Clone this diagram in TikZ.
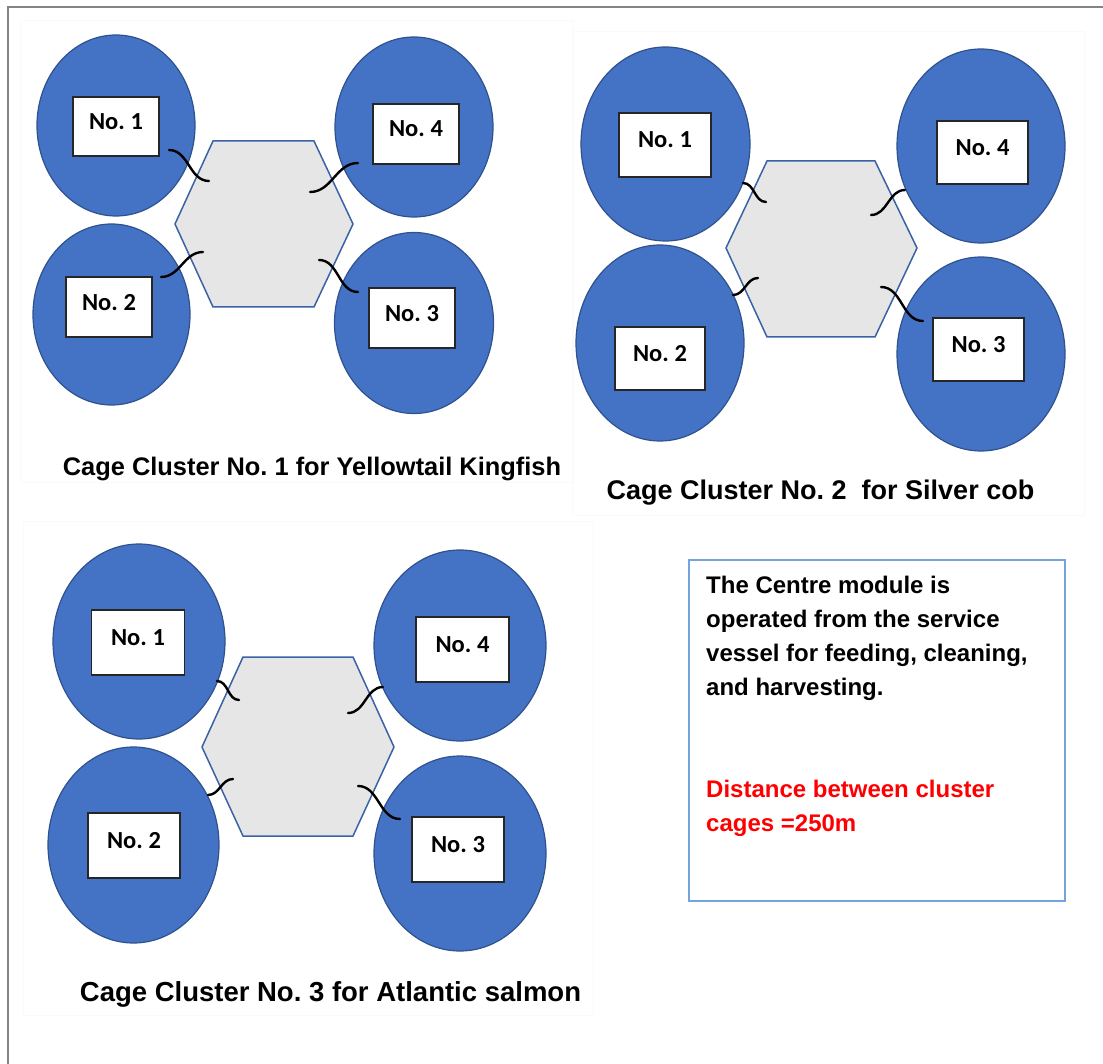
\documentclass[tikz,border=0pt]{standalone}
\usepackage{fontspec}
\setmainfont{Liberation Sans}
\newfontfamily\calfont{Carlito}
\usetikzlibrary{shapes.geometric}
\definecolor{cageblue}{HTML}{4472C4}
\definecolor{cageline}{HTML}{2F528F}
\definecolor{hubgray}{HTML}{E6E6E6}
\definecolor{hubline}{HTML}{3A62A6}
\definecolor{boxline}{RGB}{116,163,222}
\definecolor{framegray}{HTML}{858585}
\frenchspacing
\begin{document}
\begin{tikzpicture}[
  x=1pt, y=-1pt,
  cage/.style={draw=cageline, fill=cageblue, ellipse, line width=1.2pt, inner sep=0pt},
  tag/.style={draw=black!85, fill=white, line width=1.3pt, inner sep=0pt, text depth=10pt,
    font=\calfont\bfseries\fontsize{24.5}{28}\selectfont},
  hub/.style={draw=hubline, fill=hubgray, line width=1.5pt},
  cable/.style={draw=black, line width=2.4pt, line cap=round},
  title/.style={anchor=base, inner sep=0pt, font=\bfseries\fontsize{#1}{#1}\selectfont},
  note/.style={anchor=north west, align=left, inner sep=0pt,
    font=\bfseries\fontsize{24}{34.3}\selectfont},
  panel/.style={draw=black!2, line width=0.8pt}
]
\useasboundingbox (0,0) rectangle (1103,1064);
\draw[framegray, line width=2pt] (8,1064) -- (8,7) -- (1103,7);
\draw[panel] (20,20) rectangle (573,482);
\draw[panel] (572,31) rectangle (1084,515);
\draw[panel] (23,521) rectangle (593,1015);

% cluster 1
\node[cage, minimum width=158pt, minimum height=181pt] (a1) at (116,125.5) {};
\node[cage, minimum width=157pt, minimum height=181pt] (a2) at (111.5,314.5) {};
\node[cage, minimum width=159pt, minimum height=181pt] (a3) at (414,323) {};
\node[cage, minimum width=158pt, minimum height=180pt] (a4) at (414,127) {};
\draw[hub] (175,224) -- (213,141) -- (314,141) -- (353,224) -- (314,307) -- (213,307) -- cycle;
\node[tag, minimum width=86pt, minimum height=59pt] (ta1) at (116,126.5) {No. 1};
\node[tag, minimum width=86pt, minimum height=60pt] (ta2) at (109,307) {No. 2};
\node[tag, minimum width=86pt, minimum height=60pt] (ta3) at (412,318) {No. 3};
\node[tag, minimum width=86pt, minimum height=60pt] (ta4) at (416,134) {No. 4};
\coordinate (a1s) at (169,150); \coordinate (a1e) at (209,181);
\coordinate (a2s) at (203,252); \coordinate (a2e) at (161,277);
\coordinate (a3s) at (319,260); \coordinate (a3e) at (358,292);
\coordinate (a4s) at (358,163); \coordinate (a4e) at (310,192);
\draw[cable] (a1s) to[out=0,in=180] (a1e);
\draw[cable] (a2s) to[out=180,in=0] (a2e);
\draw[cable] (a3s) to[out=0,in=180] (a3e);
\draw[cable] (a4s) to[out=180,in=0] (a4e);
\node[title=25.4] (ttla) at (312,475) {Cage Cluster No. 1 for Yellowtail Kingfish};

% cluster 2
\node[cage, minimum width=169pt, minimum height=194pt] (b1) at (665.5,144) {};
\node[cage, minimum width=168pt, minimum height=196pt] (b2) at (660,343) {};
\node[cage, minimum width=168pt, minimum height=194pt] (b3) at (981,354) {};
\node[cage, minimum width=168pt, minimum height=194pt] (b4) at (981,146) {};
\draw[hub] (726,248) -- (767,161) -- (875,161) -- (917,248) -- (875,337) -- (767,337) -- cycle;
\node[tag, minimum width=92pt, minimum height=64pt] (tb1) at (665,145) {No. 1};
\node[tag, minimum width=90pt, minimum height=63pt] (tb2) at (660,358.5) {No. 2};
\node[tag, minimum width=91pt, minimum height=63pt] (tb3) at (978.5,349.5) {No. 3};
\node[tag, minimum width=91pt, minimum height=63pt] (tb4) at (982.5,152.5) {No. 4};
\coordinate (b1s) at (743,183); \coordinate (b1e) at (766,202);
\coordinate (b2s) at (758,278); \coordinate (b2e) at (733,295);
\coordinate (b3s) at (881,287); \coordinate (b3e) at (923,321);
\coordinate (b4s) at (905,190); \coordinate (b4e) at (871,215);
\draw[cable] (b1s) to[out=0,in=180] (b1e);
\draw[cable] (b2s) to[out=180,in=0] (b2e);
\draw[cable] (b3s) to[out=0,in=180] (b3e);
\draw[cable] (b4s) to[out=180,in=0] (b4e);
\node[title=27] (ttlb) at (820.5,499) {Cage Cluster No. 2 \ for Silver cob};

% cluster 3
\node[cage, minimum width=172pt, minimum height=195pt] (c1) at (139,641.5) {};
\node[cage, minimum width=171pt, minimum height=196pt] (c2) at (133.5,845) {};
\node[cage, minimum width=172pt, minimum height=195pt] (c3) at (460,853.5) {};
\node[cage, minimum width=172pt, minimum height=191pt] (c4) at (460,645.5) {};
\draw[hub] (202,747) -- (243,657) -- (353,657) -- (394,747) -- (353,836) -- (243,836) -- cycle;
\node[tag, minimum width=93pt, minimum height=65pt] (tc1) at (138,642.5) {No. 1};
\node[tag, minimum width=92pt, minimum height=65pt] (tc2) at (134,845.5) {No. 2};
\node[tag, minimum width=92pt, minimum height=65pt] (tc3) at (458,849.5) {No. 3};
\node[tag, minimum width=93pt, minimum height=65pt] (tc4) at (462.5,649.5) {No. 4};
\coordinate (c1s) at (217,681); \coordinate (c1e) at (239,700);
\coordinate (c2s) at (233,779); \coordinate (c2e) at (208,795);
\coordinate (c3s) at (358,786); \coordinate (c3e) at (400,819);
\coordinate (c4s) at (383,687); \coordinate (c4e) at (348,713);
\draw[cable] (c1s) to[out=0,in=180] (c1e);
\draw[cable] (c2s) to[out=180,in=0] (c2e);
\draw[cable] (c3s) to[out=0,in=180] (c3e);
\draw[cable] (c4s) to[out=180,in=0] (c4e);
\node[title=27.5] (ttlc) at (330.5,1001.5) {Cage Cluster No. 3 for Atlantic salmon};

% centre module note
\node[draw=boxline, line width=1.8pt, minimum width=376pt, minimum height=341pt, inner sep=0pt]
  (notebox) at (877,730.5) {};
\node[note] (info) at (706,575.5) {The Centre module is\\operated from the service\\vessel for feeding, cleaning,\\and harvesting.};
\node[note, text=red] (dist) at (706,779.5) {Distance between cluster\\cages =250m};
\end{tikzpicture}
\end{document}
